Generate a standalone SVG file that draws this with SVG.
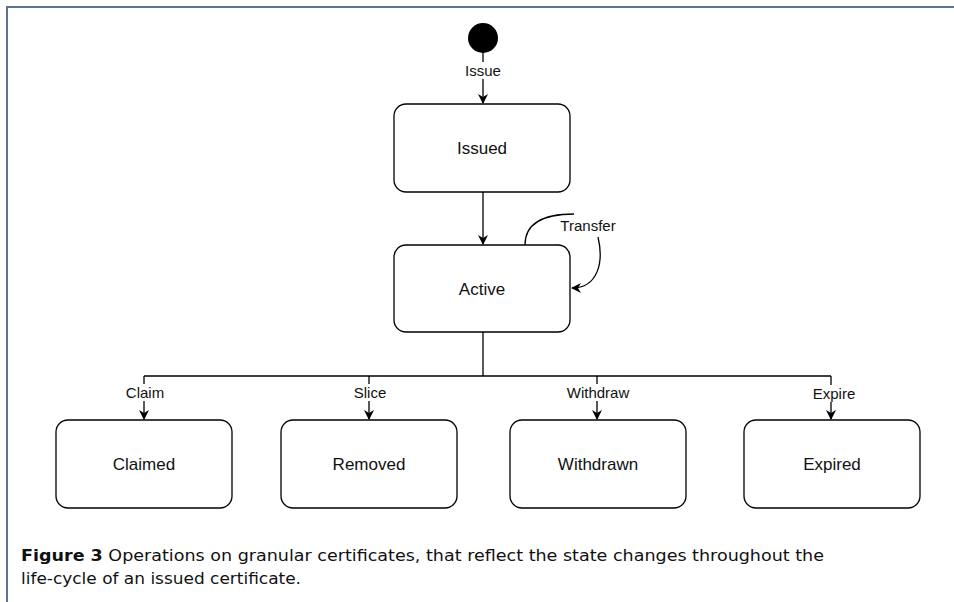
<svg xmlns="http://www.w3.org/2000/svg" width="954" height="602" viewBox="0 0 954 602">
  <defs>
    <style>
      .frame { stroke: #5b7590; stroke-width: 2; fill: none; }
      .state rect { fill: #ffffff; stroke: #000000; stroke-width: 1.3; }
      .state text { font-family: "Liberation Sans", Arial, sans-serif; font-size: 17px; fill: #111; text-anchor: middle; }
      .edge { stroke: #000000; stroke-width: 1.3; fill: none; }
      .elabel { font-family: "Liberation Sans", Arial, sans-serif; font-size: 15px; fill: #111; text-anchor: middle; }
      .lblbg { fill: #ffffff; }
      .caption { font-family: "DejaVu Sans", sans-serif; font-size: 16px; fill: #111; }
    </style>
    <marker id="arrow" viewBox="0 0 10 10" refX="9" refY="5" markerWidth="10" markerHeight="10" markerUnits="userSpaceOnUse" orient="auto">
      <path d="M0,0 L10,5 L0,10 L3,5 Z" fill="#000"/>
    </marker>
  </defs>

  <!-- page frame -->
  <path class="frame" d="M7,602 L7,7 L954,7"/>

  <!-- connectors -->
  <g id="connectors">
    <line class="edge" x1="483" y1="53" x2="483" y2="103" marker-end="url(#arrow)"/>
    <line class="edge" x1="483" y1="192" x2="483" y2="244" marker-end="url(#arrow)"/>
    <!-- Transfer self loop -->
    <path class="edge" d="M525,245 C525,226 538,214 574,214"/>
    <path class="edge" d="M598,237 C604,262 598,288 572,288" marker-end="url(#arrow)"/>
    <!-- fan-out from Active -->
    <path class="edge" d="M483,332 L483,376 M144,376 L831,376"/>
    <line class="edge" x1="144" y1="376" x2="144" y2="419" marker-end="url(#arrow)"/>
    <line class="edge" x1="369" y1="376" x2="369" y2="419" marker-end="url(#arrow)"/>
    <line class="edge" x1="597" y1="376" x2="597" y2="419" marker-end="url(#arrow)"/>
    <line class="edge" x1="831" y1="376" x2="831" y2="419" marker-end="url(#arrow)"/>
    <!-- edge labels -->
    <rect class="lblbg" x="462" y="62" width="42" height="17"/>
    <text class="elabel" x="483" y="76">Issue</text>
    <text class="elabel" x="588" y="231">Transfer</text>
    <rect class="lblbg" x="124" y="384" width="42" height="17"/>
    <text class="elabel" x="145" y="398">Claim</text>
    <rect class="lblbg" x="352" y="384" width="36" height="17"/>
    <text class="elabel" x="370" y="398">Slice</text>
    <rect class="lblbg" x="565" y="384" width="66" height="17"/>
    <text class="elabel" x="598" y="398">Withdraw</text>
    <rect class="lblbg" x="811" y="385" width="46" height="17"/>
    <text class="elabel" x="834" y="399">Expire</text>
  </g>

  <!-- initial state -->
  <g id="start">
    <circle cx="483" cy="38" r="15" fill="#000"/>
  </g>

  <g id="issued" class="state">
    <rect x="394" y="104" width="176" height="88" rx="12"/>
    <text x="482" y="154">Issued</text>
  </g>
  <g id="active" class="state">
    <rect x="394" y="245" width="176" height="87" rx="12"/>
    <text x="482" y="295">Active</text>
  </g>
  <g id="claimed" class="state">
    <rect x="56" y="420" width="176" height="88" rx="12"/>
    <text x="144" y="470">Claimed</text>
  </g>
  <g id="removed" class="state">
    <rect x="281" y="420" width="176" height="88" rx="12"/>
    <text x="369" y="470">Removed</text>
  </g>
  <g id="withdrawn" class="state">
    <rect x="510" y="420" width="176" height="88" rx="12"/>
    <text x="598" y="470">Withdrawn</text>
  </g>
  <g id="expired" class="state">
    <rect x="744" y="420" width="176" height="88" rx="12"/>
    <text x="832" y="470">Expired</text>
  </g>

  <!-- caption -->
  <text class="caption" x="21" y="561" textLength="803" lengthAdjust="spacingAndGlyphs"><tspan font-weight="bold">Figure 3</tspan> Operations on granular certificates, that reflect the state changes throughout the</text>
  <text class="caption" x="21" y="584" textLength="280" lengthAdjust="spacingAndGlyphs">life-cycle of an issued certificate.</text>
</svg>
